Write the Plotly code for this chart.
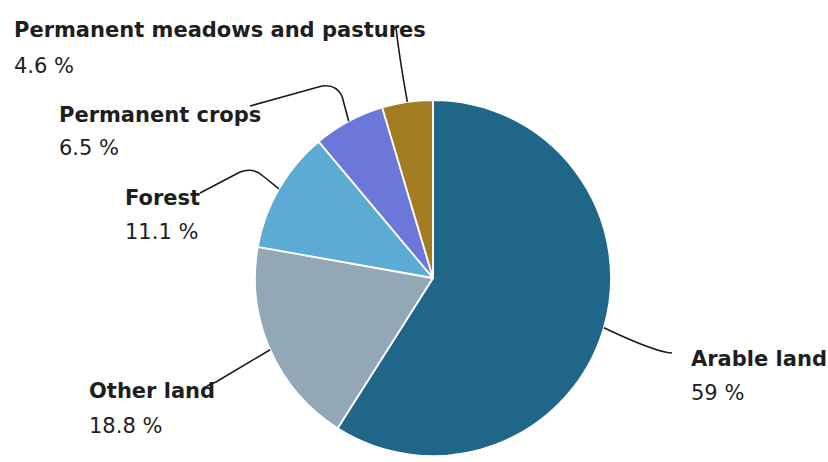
import math
import plotly.graph_objects as go

# ---- data ----
categories = ["Arable land", "Other land", "Forest", "Permanent crops",
              "Permanent meadows and pastures"]
values = [59, 18.8, 11.1, 6.5, 4.6]
value_labels = ["59 %", "18.8 %", "11.1 %", "6.5 %", "4.6 %"]
colors = ["#1f6689", "#92a8b6", "#5babd4", "#6c77da", "#a37c21"]

W, H = 828, 462
CX, CY, R = 433, 278, 178  # pie centre / radius in pixels

def px(x):
    return x / W

def py(y):
    return 1 - y / H

fig = go.Figure(go.Pie(
    labels=categories,
    values=values,
    sort=False,
    direction="clockwise",
    rotation=0,
    textinfo="none",
    hoverinfo="label+percent",
    marker=dict(colors=colors, line=dict(color="white", width=1.8)),
    domain=dict(x=[px(CX - R), px(CX + R)], y=[py(CY + R), py(CY - R)]),
    showlegend=False,
))

# mid-angle edge points computed from data
total = sum(values)
starts = []
acc = 0
for v in values:
    mid = (acc + v / 2) / total * 2 * math.pi  # clockwise from top
    starts.append((CX + R * math.sin(mid), CY - R * math.cos(mid)))
    acc += v

# label layout (left x, baseline of name, baseline of value)
label_pos = {
    "Arable land": (689, 366, 400),
    "Other land": (87, 398, 433),
    "Forest": (123, 205, 239),
    "Permanent crops": (57, 122, 155),
    "Permanent meadows and pastures": (12, 37, 73),
}

# leader line routes (after the computed start point)
def P(x, y):
    return f"{px(x):.5f},{py(y):.5f}"

routes = {
    "Arable land": lambda s: f"M {P(*s)} Q {P(655, 352)} {P(672, 353)}",
    "Other land": lambda s: f"M {P(*s)} L {P(216, 382)} Q {P(211, 384)} {P(207, 386)}",
    "Forest": lambda s: f"M {P(*s)} L {P(263, 176)} Q {P(253, 167)} {P(240, 172)} L {P(200, 193)}",
    "Permanent crops": lambda s: f"M {P(*s)} L {P(342, 96)} Q {P(336, 84)} {P(322, 86)} L {P(250, 106)}",
    "Permanent meadows and pastures": lambda s: f"M {P(*s)} Q {P(400, 62)} {P(396, 28)}",
}

shapes = []
annotations = []
FS = 21
for cat, vl, s in zip(categories, value_labels, starts):
    shapes.append(dict(type="path", xref="paper", yref="paper",
                       path=routes[cat](s),
                       line=dict(color="#1a1a1a", width=1.6)))
    x0, b1, b2 = label_pos[cat]
    annotations.append(dict(text=f"<b>{cat}</b>", x=px(x0), y=py(b1 - 7),
                            xref="paper", yref="paper", xanchor="left",
                            yanchor="middle", showarrow=False,
                            font=dict(family="DejaVu Sans", size=FS, color="#1e1e1e")))
    annotations.append(dict(text=vl, x=px(x0), y=py(b2 - 7),
                            xref="paper", yref="paper", xanchor="left",
                            yanchor="middle", showarrow=False,
                            font=dict(family="DejaVu Sans", size=FS, color="#1e1e1e")))

fig.update_layout(
    width=W, height=H,
    margin=dict(l=0, r=0, t=0, b=0),
    paper_bgcolor="white", plot_bgcolor="white",
    shapes=shapes, annotations=annotations,
)

fig.write_html("out.html")
